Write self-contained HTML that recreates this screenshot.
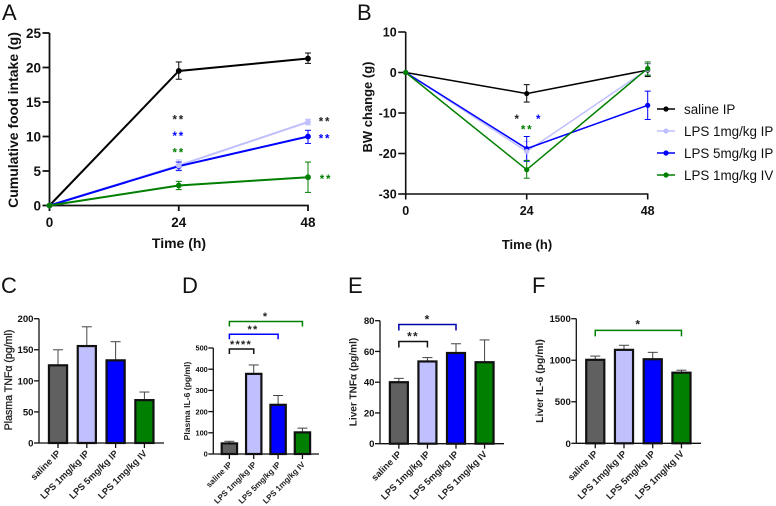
<!DOCTYPE html>
<html lang="en">
<head>
<meta charset="utf-8">
<title>LPS dose response figure</title>
<style>
html,body{margin:0;padding:0;background:#fff;width:776px;height:506px;overflow:hidden}
svg{display:block;font-family:"Liberation Sans",Arial,sans-serif;filter:blur(0.35px)}
</style>
</head>
<body>
<svg id="figure" width="776" height="506" viewBox="0 0 776 506" xmlns="http://www.w3.org/2000/svg">
<rect width="776" height="506" fill="#fff"/>
</svg>
<script>
// ---- shared categories ----
const timePoints = [0, 24, 48];
const groupNames = ["saline IP", "LPS 1mg/kg IP", "LPS 5mg/kg IP", "LPS 1mg/kg IV"];
const groupColors = ["#000000", "#c0c0ff", "#0000ff", "#007f00"];
const barColors = ["#606060", "#c0c0ff", "#0000ff", "#007f00"];

// ---- panel A: cumulative food intake ----
const foodTicks = [0, 5, 10, 15, 20, 25];
const foodSaline = [0, 19.5, 21.3];
const foodSalineLow = [0, 18.3, 20.6];
const foodSalineHigh = [0, 20.8, 22.1];
const foodLps1 = [0, 5.8, 12.1];
const foodLps1Low = [0, 5.0, 11.7];
const foodLps1High = [0, 6.6, 12.5];
const foodLps5 = [0, 5.7, 10.0];
const foodLps5Low = [0, 5.1, 9.0];
const foodLps5High = [0, 6.3, 10.9];
const foodIv = [0, 2.9, 4.1];
const foodIvLow = [0, 2.3, 1.9];
const foodIvHigh = [0, 3.5, 6.3];

// ---- panel B: body-weight change ----
const bwTicks = [-30, -20, -10, 0, 10];
const bwSaline = [0, -5.2, 0.6];
const bwSalineLow = [0, -7.3, -1.0];
const bwSalineHigh = [0, -3.0, 2.2];
const bwLps1 = [0, -19.5, 0.8];
const bwLps1Low = [0, -22.0, -0.5];
const bwLps1High = [0, -17.0, 2.1];
const bwLps5 = [0, -18.8, -8.1];
const bwLps5Low = [0, -21.9, -11.6];
const bwLps5High = [0, -15.8, -4.6];
const bwIv = [0, -24.0, 1.0];
const bwIvLow = [0, -26.1, -0.7];
const bwIvHigh = [0, -21.7, 2.6];

// ---- bar panels ----
const plasmaTnfTicks = [0, 50, 100, 150, 200];
const plasmaTnfValues = [125, 156, 133, 69];
const plasmaTnfTops = [150, 187, 163, 82];
const plasmaIl6Ticks = [0, 100, 200, 300, 400, 500];
const plasmaIl6Values = [50, 378, 232, 102];
const plasmaIl6Tops = [60, 420, 276, 122];
const liverTnfTicks = [0, 20, 40, 60, 80];
const liverTnfValues = [40, 53.5, 59, 53];
const liverTnfTops = [42.5, 56, 65, 67.5];
const liverIl6Ticks = [0, 500, 1000, 1500];
const liverIl6Values = [1005, 1125, 1012, 850];
const liverIl6Tops = [1050, 1180, 1095, 880];

const NS = "http://www.w3.org/2000/svg";
const root = document.getElementById("figure");

function linear(d0, d1, r0, r1) {
  return function (v) { return r0 + (v - d0) * (r1 - r0) / (d1 - d0); };
}
function shape(parent, tag, props, name) {
  const el = document.createElementNS(NS, tag);
  for (const k in props) el.setAttribute(k, props[k]);
  
  
  parent.appendChild(el);
  return el;
}
function group(name) {
  const g = document.createElementNS(NS, "g");
  
  
  root.appendChild(g);
  return g;
}
function label(parent, str, props, name) {
  const t = shape(parent, "text", props, name);
  t.textContent = str;
  return t;
}
function seg(parent, x1, y1, x2, y2, color, w, name) {
  return shape(parent, "line", { x1: x1, y1: y1, x2: x2, y2: y2, stroke: color, "stroke-width": w }, name);
}
function starMark(parent, cx, cy, str, color, size, spacing, name) {
  const off = size * 0.5;
  label(parent, str, {
    x: cx, y: cy + off, fill: color, "font-size": size, "font-weight": "bold",
    "text-anchor": "middle", "letter-spacing": spacing
  }, name);
}

// ---- line panels ----
function linePanel(o) {
  const g = group(o.id + "-panel");
  const sx = linear(timePoints[0], timePoints[timePoints.length - 1], o.x0, o.x1);
  const sy = linear(o.yMin, o.yMax, o.yBottom, o.yTop);
  label(g, o.letter, { x: o.letterX, y: o.letterY, "font-size": 22, fill: "#111" }, "panel-letter");
  // axes
  const axisColor = "#111";
  seg(g, o.x0, o.yTop, o.x0, o.yBottom, axisColor, o.axisW, "y-axis");
  seg(g, o.x0 - 0.7, o.yBottom, o.x1 + 0.7, o.yBottom, axisColor, o.axisW, "x-axis");
  o.ticks.forEach(function (t) {
    seg(g, o.x0 - o.tickLen, sy(t), o.x0, sy(t), axisColor, o.axisW, "y-tick");
    label(g, String(t), {
      x: o.x0 - o.tickLen - 1.5, y: sy(t) + o.tickFont * 0.36, "font-size": o.tickFont, "font-weight": "bold",
      "text-anchor": "end", fill: "#111"
    }, "y-tick-label");
  });
  timePoints.forEach(function (t) {
    seg(g, sx(t), o.yBottom, sx(t), o.yBottom + 5.5, axisColor, o.axisW, "x-tick");
    label(g, String(t), {
      x: sx(t), y: o.xTickBase, "font-size": o.tickFont, "font-weight": "bold",
      "text-anchor": "middle", fill: "#111"
    }, "x-tick-label");
  });
  label(g, o.xTitle, { x: o.xTitleX, y: o.xTitleY, "font-size": o.titleFont, "font-weight": "bold", "text-anchor": "middle", fill: "#111" }, "x-axis-title");
  label(g, o.yTitle, {
    transform: "translate(" + o.yTitleX + "," + o.yTitleY + ") rotate(-90)",
    "font-size": o.titleFont, "font-weight": "bold", "text-anchor": "middle", fill: "#111"
  }, "y-axis-title");
  // series lines, then error bars, then markers (1 mg/kg IP marker sits above 5 mg/kg IP)
  o.series.forEach(function (s) {
    const pts = s.values.map(function (v, i) { return sx(timePoints[i]) + "," + sy(v); }).join(" ");
    shape(g, "polyline", { points: pts, fill: "none", stroke: s.color, "stroke-width": o.lineW, "stroke-linejoin": "miter" }, s.name + "-line");
  });
  o.series.forEach(function (s) {
    s.values.forEach(function (v, i) {
      if (i === 0) return;
      const x = sx(timePoints[i]);
      seg(g, x, sy(s.low[i]), x, sy(s.high[i]), s.color, 1, s.name + "-error-bar");
      seg(g, x - 3, sy(s.low[i]), x + 3, sy(s.low[i]), s.color, 1, s.name + "-error-cap");
      seg(g, x - 3, sy(s.high[i]), x + 3, sy(s.high[i]), s.color, 1, s.name + "-error-cap");
    });
  });
  [o.series[0], o.series[2], o.series[1], o.series[3]].forEach(function (s) {
    s.values.forEach(function (v, i) {
      shape(g, "circle", { cx: sx(timePoints[i]), cy: sy(v), r: o.markerR, fill: s.color }, s.name + "-point");
    });
  });
  return { g: g, sx: sx, sy: sy };
}

function seriesList(a, b, c, d) {
  const slug = ["saline", "lps-1mg-ip", "lps-5mg-ip", "lps-1mg-iv"];
  return [a, b, c, d].map(function (s, i) {
    return { values: s[0], low: s[1], high: s[2], color: groupColors[i], name: slug[i] };
  });
}

const panelA = linePanel({
  id: "food-intake", letter: "A", letterX: 2, letterY: 20,
  x0: 49.5, x1: 308, yTop: 33, yBottom: 205.5, yMin: 0, yMax: 25,
  ticks: foodTicks, tickLen: 7, tickFont: 13.5, xTickBase: 227, titleFont: 14, axisW: 1.8,
  xTitle: "Time (h)", xTitleX: 179, xTitleY: 248,
  yTitle: "Cumulative food intake (g)", yTitleX: 18, yTitleY: 120,
  lineW: 2, markerR: 2.9,
  series: seriesList([foodSaline, foodSalineLow, foodSalineHigh], [foodLps1, foodLps1Low, foodLps1High],
    [foodLps5, foodLps5Low, foodLps5High], [foodIv, foodIvLow, foodIvHigh])
});
starMark(panelA.g, panelA.sx(24), panelA.sy(12.7), "**", "#222", 11.5, 1.8, "significance-stars");
starMark(panelA.g, panelA.sx(24), panelA.sy(10.3), "**", "#0000ff", 11.5, 1.8, "significance-stars");
starMark(panelA.g, panelA.sx(24), panelA.sy(7.9), "**", "#007f00", 11.5, 1.8, "significance-stars");
starMark(panelA.g, panelA.sx(48) + 17, panelA.sy(12.4), "**", "#222", 11.5, 1.8, "significance-stars");
starMark(panelA.g, panelA.sx(48) + 17, panelA.sy(10), "**", "#0000ff", 11.5, 1.8, "significance-stars");
starMark(panelA.g, panelA.sx(48) + 18, panelA.sy(4.1), "**", "#007f00", 11.5, 1.8, "significance-stars");

const panelB = linePanel({
  id: "body-weight", letter: "B", letterX: 357, letterY: 20,
  x0: 405.7, x1: 647.7, yTop: 32, yBottom: 194, yMin: -30, yMax: 10,
  ticks: bwTicks, tickLen: 7.5, tickFont: 12.5, xTickBase: 215, titleFont: 13, axisW: 1.6,
  xTitle: "Time (h)", xTitleX: 527, xTitleY: 249,
  yTitle: "BW change (g)", yTitleX: 372, yTitleY: 107,
  lineW: 1.5, markerR: 2.6,
  series: seriesList([bwSaline, bwSalineLow, bwSalineHigh], [bwLps1, bwLps1Low, bwLps1High],
    [bwLps5, bwLps5Low, bwLps5High], [bwIv, bwIvLow, bwIvHigh])
});
starMark(panelB.g, panelB.sx(24) - 10, panelB.sy(-11), "*", "#222", 11.5, 0, "significance-star");
starMark(panelB.g, panelB.sx(24) + 11.5, panelB.sy(-11), "*", "#0000ff", 11.5, 0, "significance-star");
starMark(panelB.g, panelB.sx(24) + 0.5, panelB.sy(-13.7), "**", "#007f00", 11.5, 1.8, "significance-stars");

// ---- legend ----
const legend = group("legend");
groupNames.forEach(function (n, i) {
  const y = 109 + i * 22;
  seg(legend, 657, y, 675, y, groupColors[i], 1.6, "legend-line");
  shape(legend, "circle", { cx: 666, cy: y, r: 2.6, fill: groupColors[i] }, "legend-marker");
  label(legend, n, { x: 684, y: y + 4.8, "font-size": 13.4, fill: "#111" }, "legend-label");
});

// ---- bar panels ----
function barPanel(o) {
  const g = group(o.id + "-panel");
  const sy = linear(0, o.yMax, o.yZero, o.yTop);
  const step = (o.x1 - o.x0) / 4.34;
  const sx = function (i) { return o.x0 + step * (0.66 + i); };
  const bw = step * 0.63;
  label(g, o.letter, { x: o.letterX, y: 293, "font-size": 22, fill: "#111" }, "panel-letter");
  o.values.forEach(function (v, i) {
    const x = sx(i);
    seg(g, x, sy(o.tops[i]), x, sy(v), "#444", 1, "error-bar");
    seg(g, x - 5, sy(o.tops[i]), x + 5, sy(o.tops[i]), "#444", 1, "error-cap");
    shape(g, "rect", {
      x: x - bw / 2, y: sy(v), width: bw, height: o.yZero - sy(v),
      fill: barColors[i], stroke: "#111", "stroke-width": 2.2
    }, "bar-" + (i + 1));
  });
  seg(g, o.x0, o.yTop, o.x0, o.yZero, "#111", 1.3, "y-axis");
  seg(g, o.x0, o.yZero, o.x1, o.yZero, "#111", 1.3, "x-axis");
  o.ticks.forEach(function (t) {
    seg(g, o.x0 - 5, sy(t), o.x0, sy(t), "#111", 1.3, "y-tick");
    label(g, String(t), {
      x: o.x0 - 5.5, y: sy(t) + o.tickFont * 0.36, "font-size": o.tickFont, "font-weight": "bold",
      "text-anchor": "end", fill: "#111"
    }, "y-tick-label");
  });
  groupNames.forEach(function (n, i) {
    const x = sx(i);
    seg(g, x, o.yZero, x, o.yZero + 5, "#111", 1.3, "x-tick");
    label(g, n, {
      transform: "translate(" + (x + 3) + "," + (o.yZero + 11) + ") rotate(-45)",
      "font-size": o.catFont, "font-weight": "bold", "text-anchor": "end", fill: "#222"
    }, "category-label");
  });
  const title = label(g, o.yTitle, {
    transform: "translate(" + o.yTitleX + "," + o.yTitleY + ") rotate(-90)",
    "font-size": o.titleFont, "font-weight": o.titleWeight, "text-anchor": "middle", fill: "#222"
  }, "y-axis-title");
  if (o.titleWeight === "normal") {
    title.setAttribute("stroke", "#222");
    title.setAttribute("stroke-width", "0.3");
  }
  return { g: g, sx: sx, sy: sy };
}
function bracket(p, i0, i1, v, drop, color, name) {
  const y = p.sy(v);
  const x0 = p.sx(i0), x1 = p.sx(i1);
  shape(p.g, "polyline", {
    points: x0 + "," + (y + drop) + " " + x0 + "," + y + " " + x1 + "," + y + " " + x1 + "," + (y + drop),
    fill: "none", stroke: color, "stroke-width": 1.5
  }, name);
}

const panelC = barPanel({
  id: "plasma-tnf", letter: "C", letterX: 1, x0: 39, x1: 164, yTop: 318.7, yZero: 443, yMax: 200,
  ticks: plasmaTnfTicks, values: plasmaTnfValues, tops: plasmaTnfTops, tickFont: 9.6, catFont: 9.3,
  yTitle: "Plasma TNF\u03b1 (pg/ml)", yTitleX: 12, yTitleY: 380, titleFont: 10.6, titleWeight: "normal"
});

const panelD = barPanel({
  id: "plasma-il6", letter: "D", letterX: 182, x0: 213.3, x1: 319, yTop: 348, yZero: 454, yMax: 500,
  ticks: plasmaIl6Ticks, values: plasmaIl6Values, tops: plasmaIl6Tops, tickFont: 7.4, catFont: 8,
  yTitle: "Plasma IL-6 (pg/ml)", yTitleX: 190, yTitleY: 401, titleFont: 8.6, titleWeight: "bold"
});
bracket(panelD, 0, 1, 495, 5, "#111", "significance-bracket-black");
bracket(panelD, 0, 2, 565, 5, "#0000ff", "significance-bracket-blue");
bracket(panelD, 0, 3, 625, 5, "#007f00", "significance-bracket-green");
starMark(panelD.g, 241, panelD.sy(527), "****", "#222", 11, 1.2, "significance-stars");
starMark(panelD.g, 253, panelD.sy(597), "**", "#222", 11, 1.2, "significance-stars");
starMark(panelD.g, 265, panelD.sy(657), "*", "#222", 11, 0, "significance-star");

const panelE = barPanel({
  id: "liver-tnf", letter: "E", letterX: 348, x0: 380, x1: 504, yTop: 320.7, yZero: 443.7, yMax: 80,
  ticks: liverTnfTicks, values: liverTnfValues, tops: liverTnfTops, tickFont: 9.6, catFont: 9.3,
  yTitle: "Liver TNF\u03b1 (pg/ml)", yTitleX: 356.5, yTitleY: 382, titleFont: 10, titleWeight: "bold"
});
bracket(panelE, 0, 1, 66.5, 6, "#111", "significance-bracket-black");
bracket(panelE, 0, 2, 77.5, 6, "#0000aa", "significance-bracket-blue");
starMark(panelE.g, 413, panelE.sy(71), "**", "#222", 12, 1.2, "significance-stars");
starMark(panelE.g, 427, panelE.sy(82), "*", "#222", 12, 0, "significance-star");

const panelF = barPanel({
  id: "liver-il6", letter: "F", letterX: 532, x0: 576.3, x1: 701, yTop: 318.7, yZero: 443.3, yMax: 1500,
  ticks: liverIl6Ticks, values: liverIl6Values, tops: liverIl6Tops, tickFont: 9.6, catFont: 9.3,
  yTitle: "Liver IL-6 (pg/ml)", yTitleX: 543, yTitleY: 381, titleFont: 10.4, titleWeight: "bold"
});
bracket(panelF, 0, 3, 1360, 6, "#007f00", "significance-bracket-green");
starMark(panelF.g, 637.7, panelF.sy(1455), "*", "#222", 12, 0, "significance-star");
</script>
</body>
</html>
